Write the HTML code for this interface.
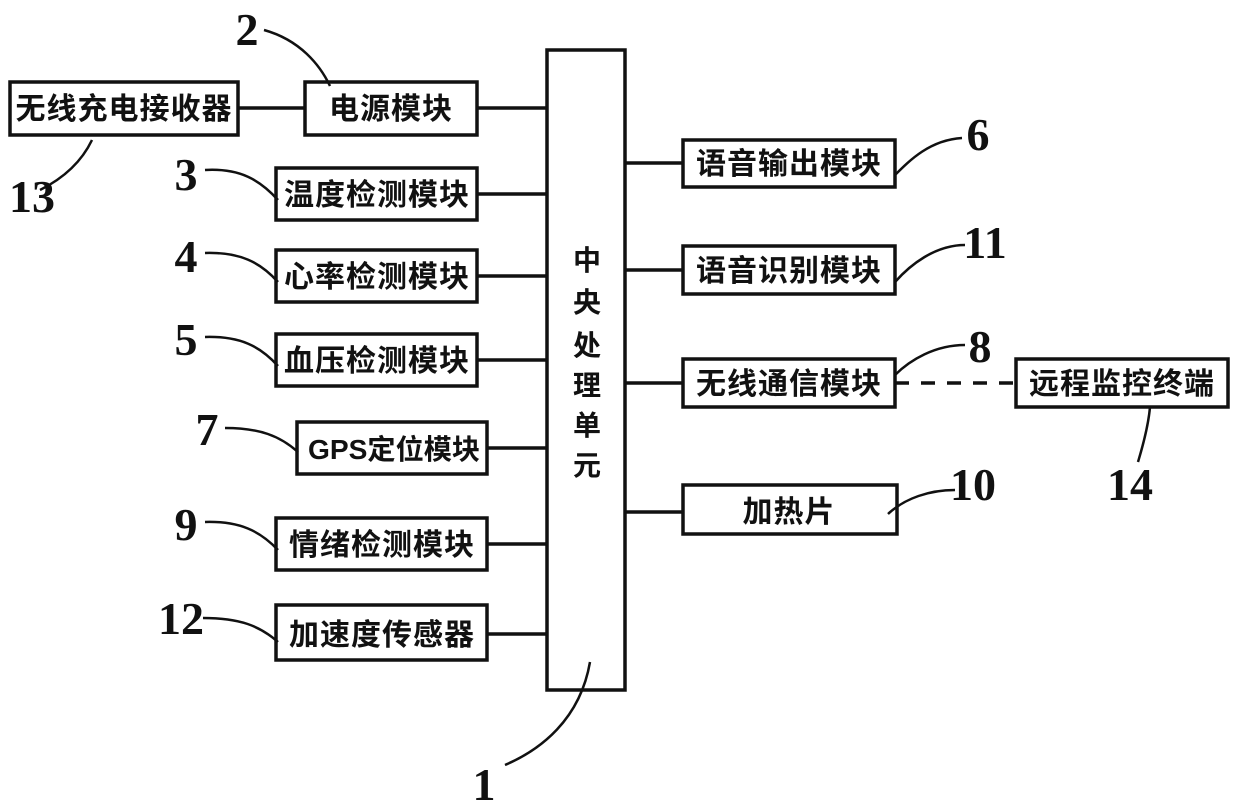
<!DOCTYPE html>
<html><head><meta charset="utf-8"><style>
html,body{margin:0;padding:0;background:#fff;}
svg{display:block;}
.t{font-family:"Liberation Sans","Noto Sans CJK SC",sans-serif;font-weight:bold;font-size:30px;fill:#111;letter-spacing:1px;}
.c{font-size:28px;letter-spacing:0;}
.n{font-family:"Liberation Serif",serif;font-size:46px;fill:#111;font-weight:bold;}
</style></head><body>
<svg width="1240" height="812" viewBox="0 0 1240 812" xmlns="http://www.w3.org/2000/svg">
<g fill="none" stroke="#111" stroke-width="3.5">
<rect x="10" y="82" width="228" height="53"/>
<rect x="547" y="50" width="78" height="640"/>
<rect x="305" y="82" width="172" height="53"/>
<rect x="276" y="168" width="201" height="52"/>
<rect x="276" y="250" width="201" height="52"/>
<rect x="276" y="334" width="201" height="52"/>
<rect x="297" y="422" width="190" height="52"/>
<rect x="276" y="518" width="211" height="52"/>
<rect x="276" y="605" width="211" height="55"/>
<rect x="683" y="140" width="212" height="47"/>
<rect x="683" y="246" width="212" height="48"/>
<rect x="683" y="359" width="212" height="48"/>
<rect x="1016" y="359" width="212" height="48"/>
<rect x="683" y="485" width="214" height="49"/>
<path d="M238 108H305M477 108H547M477 194H547M477 276H547M477 360H547M487 448H547M487 544H547M487 634H547"/>
<path d="M625 163H683M625 270H683M625 383H683M625 512H683"/>
<path d="M895 383H1016" stroke-dasharray="14,12"/>
<g stroke-width="2.5">
<path d="M264 30C300 40 320 65 330 86"/>
<path d="M92 140C80 165 60 180 40 190"/>
<path d="M205 170C240 168 260 180 278 200"/>
<path d="M205 253C240 252 260 262 278 282"/>
<path d="M205 337C240 336 260 346 278 366"/>
<path d="M225 428C260 428 280 436 298 452"/>
<path d="M205 522C240 521 260 531 278 550"/>
<path d="M203 618C240 618 260 626 278 642"/>
<path d="M895 175C910 160 930 140 962 138"/>
<path d="M895 282C910 265 935 245 965 245"/>
<path d="M895 375C910 360 935 345 965 345"/>
<path d="M888 514C905 498 930 490 955 490"/>
<path d="M1150 407C1148 430 1140 455 1138 462"/>
<path d="M505 765C540 750 580 720 590 662"/>
</g>
</g>
<g class="t" text-anchor="middle">
<text x="124" y="119">无线充电接收器</text>
<text x="391" y="119">电源模块</text>
<text x="377" y="205">温度检测模块</text>
<text x="377" y="287">心率检测模块</text>
<text x="377" y="371">血压检测模块</text>
<text x="394" y="459" style="font-size:28px;letter-spacing:0" textLength="172" lengthAdjust="spacingAndGlyphs">GPS定位模块</text>
<text x="382" y="555">情绪检测模块</text>
<text x="382" y="645">加速度传感器</text>
<text x="789" y="174">语音输出模块</text>
<text x="789" y="281">语音识别模块</text>
<text x="789" y="394">无线通信模块</text>
<text x="1122" y="394">远程监控终端</text>
<text x="789" y="522">加热片</text>
<g class="c">
<text x="587" y="270">中</text>
<text x="587" y="312">央</text>
<text x="587" y="355">处</text>
<text x="587" y="395">理</text>
<text x="587" y="435">单</text>
<text x="587" y="475">元</text>
</g>
</g>
<g class="n" text-anchor="middle">
<text x="247" y="45">2</text>
<text x="32" y="212">13</text>
<text x="186" y="190">3</text>
<text x="186" y="272">4</text>
<text x="186" y="355">5</text>
<text x="207" y="445">7</text>
<text x="186" y="540">9</text>
<text x="181" y="634">12</text>
<text x="978" y="150">6</text>
<text x="985" y="258">11</text>
<text x="980" y="362">8</text>
<text x="973" y="500">10</text>
<text x="1130" y="500">14</text>
<text x="484" y="800">1</text>
</g>
</svg>
</body></html>
